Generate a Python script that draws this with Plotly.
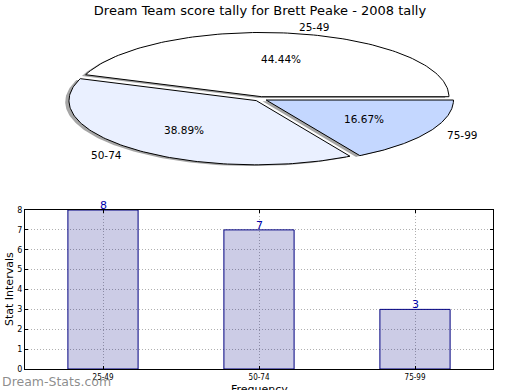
import numpy as np
import plotly.graph_objects as go

# ---- data ----
categories = ["25-49", "50-74", "75-99"]
counts = [8, 7, 3]
pie_colors = ["#FFFFFF", "#EAF0FF", "#C4D7FF"]
title = "Dream Team score tally for Brett Peake - 2008 tally"

FONT = "DejaVu Sans"
W, H = 520, 390

def py(p):  # pixel-from-top -> paper y
    return 1 - p / H

fig = go.Figure()

# ---- pie (elliptical, drawn on its own axes) ----
total = float(sum(counts))
explode = 0.035
start = 0.0
wedges = []
for cat, val, col in zip(categories, counts, pie_colors):
    span = 360.0 * val / total
    t1, t2 = start, start + span
    mid = np.deg2rad((t1 + t2) / 2)
    ox, oy = explode * np.cos(mid), explode * np.sin(mid)
    t = np.deg2rad(np.linspace(t1, t2, 120))
    xs = np.concatenate([[ox], ox + np.cos(t), [ox]])
    ys = np.concatenate([[oy], oy + np.sin(t), [oy]])
    wedges.append((cat, val, col, xs, ys, mid, ox, oy))
    start = t2

# shadows
for cat, val, col, xs, ys, mid, ox, oy in wedges:
    fig.add_trace(go.Scatter(x=xs - 0.02, y=ys - 0.02, mode="lines", fill="toself",
                             fillcolor="rgba(77,77,77,0.5)", line=dict(width=0),
                             hoverinfo="skip", showlegend=False, xaxis="x", yaxis="y"))
for cat, val, col, xs, ys, mid, ox, oy in wedges:
    fig.add_trace(go.Scatter(x=xs, y=ys, mode="lines", fill="toself",
                             fillcolor=col, line=dict(color="black", width=1),
                             hoverinfo="skip", showlegend=False, xaxis="x", yaxis="y"))
    lx, ly = ox + 1.1 * np.cos(mid), oy + 1.1 * np.sin(mid)
    fig.add_annotation(x=lx, y=ly, xref="x", yref="y", text=cat, showarrow=False,
                       xanchor="left" if lx > 0 else "right", yanchor="middle",
                       font=dict(family=FONT, size=10.5, color="black"))
    px_, py_ = ox + 0.6 * np.cos(mid), oy + 0.6 * np.sin(mid)
    fig.add_annotation(x=px_, y=py_, xref="x", yref="y",
                       text="%.2f%%" % (100.0 * val / total), showarrow=False,
                       xanchor="center", yanchor="middle",
                       font=dict(family=FONT, size=10.5, color="black"))

# ---- bar chart ----
fig.add_trace(go.Bar(x=categories, y=counts, width=0.45,
                     marker=dict(color="rgba(0,0,128,0.2)",
                                 line=dict(color="#000080", width=1)),
                     hoverinfo="skip", showlegend=False, xaxis="x2", yaxis="y2"))
for cat, val in zip(categories, counts):
    fig.add_annotation(x=cat, y=val, xref="x2", yref="y2", text=str(val),
                       showarrow=False, xanchor="center", yanchor="bottom", yshift=-4,
                       font=dict(family=FONT, size=11, color="#0000AA"))

cx, Rx, cy, Ry = 260.5, 187.3, 98.9, 64.2
ptop, pbot = 20, 185
fig.update_layout(
    template="none",
    width=W, height=H, margin=dict(l=0, r=0, t=0, b=0, pad=0, autoexpand=False),
    paper_bgcolor="white", plot_bgcolor="white",
    title=dict(text=title, x=0.5, xanchor="center", y=py(10), yanchor="middle",
               font=dict(family=FONT, size=13, color="black")),
    xaxis=dict(domain=[0, 1], range=[-cx / Rx, (W - cx) / Rx], visible=False,
               fixedrange=True, automargin=False),
    yaxis=dict(domain=[py(pbot), py(ptop)], range=[-(pbot - cy) / Ry, (cy - ptop) / Ry],
               visible=False, fixedrange=True, automargin=False),
    xaxis2=dict(domain=[25 / W, 493 / W], anchor="y2", range=[-0.5, 2.5],
                automargin=False, fixedrange=True,
                showline=True, linecolor="black", linewidth=1, mirror="ticks",
                ticks="inside", ticklen=3, tickcolor="black",
                showgrid=True, gridcolor="#b0b0b0", griddash="1px,2px", gridwidth=1,
                zeroline=False,
                tickfont=dict(family="DejaVu Sans Condensed, " + FONT, size=8, color="black")),
    yaxis2=dict(domain=[py(369), py(210)], anchor="x2", range=[0, 8], dtick=1,
                automargin=False, fixedrange=True,
                showline=True, linecolor="black", linewidth=1, mirror="ticks",
                ticks="inside", ticklen=3, tickcolor="black",
                showgrid=True, gridcolor="#b0b0b0", griddash="1px,2px", gridwidth=1,
                zeroline=False,
                tickfont=dict(family=FONT, size=8, color="black")),
)

fig.add_annotation(x=259 / W, y=py(381), xref="paper", yref="paper", text="Frequency",
                   showarrow=False, xanchor="center", yanchor="top",
                   font=dict(family=FONT, size=11, color="black"))
fig.add_annotation(x=9 / W, y=py(289), xref="paper", yref="paper", text="Stat Intervals",
                   showarrow=False, xanchor="center", yanchor="middle", textangle=-90,
                   font=dict(family=FONT, size=11, color="black"))
fig.add_annotation(x=0, y=py(381), xref="paper", yref="paper", text="Dream-Stats.com",
                   showarrow=False, xanchor="left", yanchor="middle",
                   font=dict(family=FONT, size=12.5, color="rgba(120,120,120,0.85)"))

fig.write_html("out.html", config={"displayModeBar": False, "staticPlot": True},
               post_script="document.body.style.margin='0';document.body.style.overflow='hidden';")
